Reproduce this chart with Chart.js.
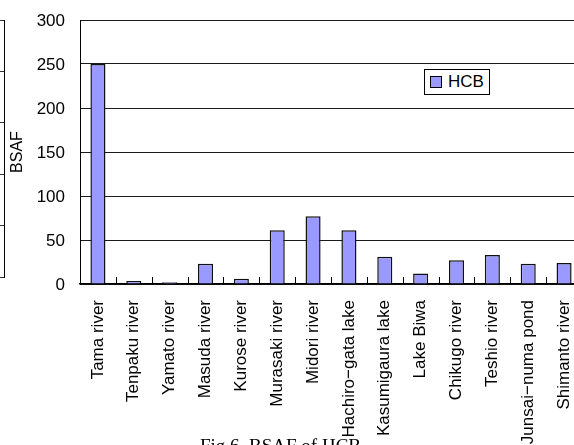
<!DOCTYPE html>
<html>
<head>
<meta charset="utf-8">
<script src="https://cdn.jsdelivr.net/npm/chart.js@4/dist/chart.umd.min.js"></script>
<style>
  html, body { margin: 0; padding: 0; background: #fff; }
  body { width: 574px; height: 445px; overflow: hidden; position: relative; font-family: "Liberation Sans", Arial, sans-serif; }
  #side { position: absolute; left: -195px; top: 0; }
  #main { position: absolute; left: 0; top: 0; }
  #legend { position: absolute; left: 424px; top: 69px; width: 64px; height: 24px; border: 1px solid #000; background: #fff;
            font: 17px "Liberation Sans", Arial, sans-serif; color: #000; display: flex; align-items: center; }
  #legend .mk { width: 10px; height: 10px; border: 1px solid #000; margin-left: 5px; margin-right: 6px; }
  #caption { position: absolute; left: 200px; top: 436px; font: 19px "Liberation Serif", "DejaVu Serif", serif; line-height: 19px; white-space: pre; color: #000; }
</style>
</head>
<body>
<canvas id="side" width="200" height="445"></canvas>
<canvas id="main" width="600" height="445"></canvas>
<div id="legend"></div>
<div id="caption">Fig.6  BSAF of HCB</div>
<script>
// Sites sampled
const sites = ['Tama river', 'Tenpaku river', 'Yamato river', 'Masuda river', 'Kurose river',
  'Murasaki river', 'Midori river', 'Hachiro\u2212gata lake', 'Kasumigaura lake', 'Lake Biwa',
  'Chikugo river', 'Teshio river', 'Junsai\u2212numa pond', 'Shimanto river'];
// BSAF values for HCB at each site
const hcb = [250, 3.5, 2, 23, 6, 61, 77, 61, 31, 12, 27, 33, 23, 24];
// Value axis
const yTicks = [0, 50, 100, 150, 200, 250, 300];

const FONT = '"Liberation Sans", Arial, sans-serif';
const BAR_FILL = '#9999FF';

// Short upward tick marks on the category axis, between categories
const categoryTicks = {
  id: 'categoryTicks',
  afterDatasetsDraw(chart) {
    const xs = chart.scales.x;
    const bottom = chart.chartArea.bottom;
    const ctx = chart.ctx;
    ctx.save();
    ctx.strokeStyle = '#000';
    ctx.lineWidth = 1;
    ctx.beginPath();
    for (let i = 0; i < sites.length - 1; i++) {
      const x = Math.round((xs.getPixelForValue(i) + xs.getPixelForValue(i + 1)) / 2) + 0.5;
      ctx.moveTo(x, bottom - 7);
      ctx.lineTo(x, bottom);
    }
    ctx.stroke();
    ctx.restore();
  }
};

const chart = new Chart(document.getElementById('main'), {
  type: 'bar',
  data: {
    labels: sites,
    datasets: [{
      label: 'HCB',
      data: hcb,
      backgroundColor: BAR_FILL,
      borderColor: '#111',
      borderWidth: 1.5,
      barPercentage: 0.42,
      categoryPercentage: 1
    }]
  },
  options: {
    responsive: false,
    devicePixelRatio: 1,
    animation: false,
    layout: { autoPadding: false, padding: { top: 20, right: 18, bottom: 0, left: 0 } },
    plugins: { legend: { display: false }, tooltip: { enabled: false } },
    scales: {
      x: {
        grid: { display: false },
        border: { display: true, color: '#000', width: 1.5 },
        ticks: {
          autoSkip: false, minRotation: 90, maxRotation: 90, padding: 8,
          color: '#000', font: { family: FONT, size: 17 }
        },
        afterFit(s) { s.height = 161; s.paddingLeft = 0; s.paddingRight = 0; }
      },
      y: {
        min: 0, max: 300,
        afterBuildTicks(s) { s.ticks = yTicks.map(v => ({ value: v })); },
        grid: { color: '#1a1a1a', lineWidth: 1, drawTicks: false },
        border: { display: true, color: '#000', width: 1 },
        ticks: { padding: 15, labelOffset: 1, color: '#000', font: { family: FONT, size: 17 } },
        title: { display: true, text: 'BSAF', color: '#000', font: { family: FONT, size: 16 }, padding: { top: 8, bottom: 0 } },
        afterFit(s) { s.width = 80; s.paddingTop = 0; s.paddingBottom = 0; }
      }
    }
  },
  plugins: [categoryTicks]
});

// Legend built from the dataset
const ds = chart.data.datasets[0];
const lg = document.getElementById('legend');
const mk = document.createElement('span');
mk.className = 'mk';
mk.style.background = ds.backgroundColor;
const tx = document.createElement('span');
tx.textContent = ds.label;
lg.appendChild(mk);
lg.appendChild(tx);

// Neighbouring panel: only its right edge and gridline ends fall inside the page
new Chart(document.getElementById('side'), {
  type: 'line',
  data: { labels: [], datasets: [] },
  options: {
    responsive: false,
    devicePixelRatio: 1,
    animation: false,
    layout: { autoPadding: false, padding: { top: 20, right: 1, bottom: 168, left: 20 } },
    plugins: { legend: { display: false }, tooltip: { enabled: false } },
    scales: {
      x: { display: false },
      y: {
        position: 'right', min: 0, max: 5,
        ticks: { display: false, stepSize: 1 },
        grid: { color: '#333', drawTicks: false },
        border: { display: true, color: '#000', width: 1 },
        afterFit(s) { s.paddingTop = 0; s.paddingBottom = 0; }
      }
    }
  }
});
</script>
</body>
</html>
